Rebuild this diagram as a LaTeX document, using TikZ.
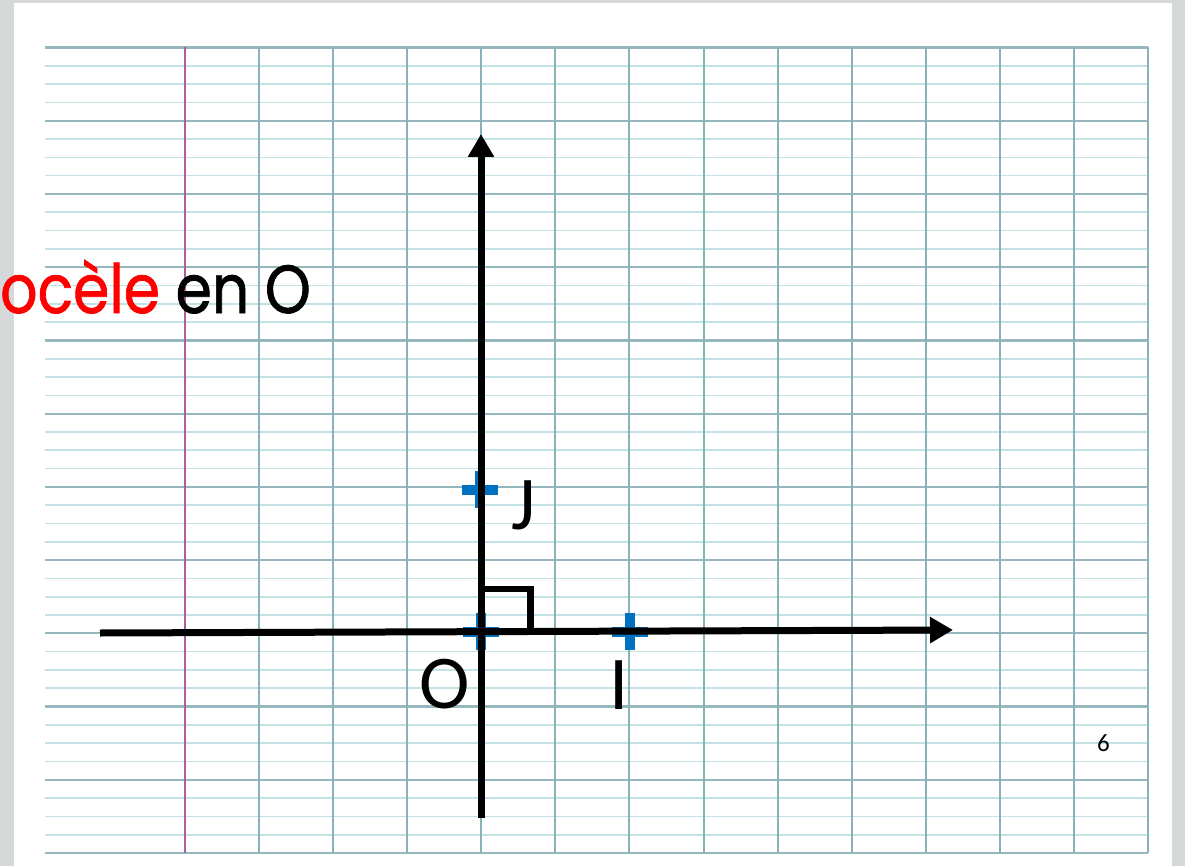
\documentclass[tikz,border=0pt]{standalone}
\usepackage{fontspec}
\setmainfont{Carlito}
\newfontfamily\handfont[FakeBold=1.2]{Poppins}
\usetikzlibrary{arrows.meta}
\definecolor{bggrey}{HTML}{D6D9DA}
\definecolor{minorline}{HTML}{C2E2E5}
\definecolor{majorline}{HTML}{94B8BD}
\definecolor{vline}{HTML}{86B2B8}
\definecolor{marginline}{HTML}{B45CA0}
\definecolor{crossblue}{HTML}{0070C0}
\definecolor{txtred}{HTML}{FF0000}
\tikzset{
  minor/.style={draw=minorline,line width=1.6pt},
  major/.style={draw=majorline,line width=2.2pt},
  vgrid/.style={draw=vline,line width=2pt},
  axis/.style={draw=black,line width=7pt,-{Triangle[length=23pt,width=25pt]}},
  crossbar/.style={draw=crossblue,line width=10pt},
  lbl/.style={inner sep=0pt,font=\fontsize{76}{80}\selectfont},
}
\begin{document}
\begin{tikzpicture}[x=1pt,y=-1pt]
\useasboundingbox (0,0) rectangle (1185,866);
\fill[bggrey] (0,0) rectangle (1185,866);
\fill[white] (14,3) rectangle (1172,866);
% grid
\foreach \k in {0,...,44} {
  \pgfmathsetmacro\yy{47.5+18.307*\k}
  \draw[minor] (45,\yy) -- (1148,\yy);
}
\foreach \k in {0,...,11} {
  \pgfmathsetmacro\yy{47.5+73.227*\k}
  \draw[major] (45,\yy) -- (1148,\yy);
}
\foreach \k in {1,...,13} {
  \pgfmathsetmacro\xx{185+74.08*\k}
  \draw[vgrid] (\xx,47.5) -- (\xx,853);
}
\draw[draw=marginline,line width=2.4pt] (185,47.5) -- (185,853);
% points
\coordinate (O) at (481,631.5);
\coordinate (I) at (630,631.5);
\coordinate (J) at (480,489.5);
\coordinate (xstart) at (100,633);
\coordinate (xend) at (953,630);
\coordinate (ystart) at (481,818);
\coordinate (yend) at (481,134);
% crosses
\foreach \p in {O,I,J} {
  \draw[crossbar] (\p) ++(-18,0) -- ++(36,0);
  \draw[crossbar] (\p) ++(0,-18.5) -- ++(0,37);
}
% axes
\draw[axis] (xstart) -- (xend);
\draw[axis] (ystart) -- (yend);
% right angle mark
\draw[line width=6.5pt,line join=miter] (O) ++(0,-42.5) -- ++(49.5,0) -- ++(0,42.5);
% labels
\node[lbl] (lO) at (445,684) {O};
\node[lbl] (lI) at (619,685) {I};
\node[lbl] (lJ) at (524,505) {J};
\node[inner sep=0pt,font=\fontsize{25}{28}\selectfont] (six) at (1103.5,743) {6};
\node[inner sep=0pt,anchor=base west,xscale=0.86,font=\handfont\fontsize{68}{70}\selectfont] (title) at (0,313)
  {\textcolor{txtred}{ocèle} en O};
\end{tikzpicture}
\end{document}
